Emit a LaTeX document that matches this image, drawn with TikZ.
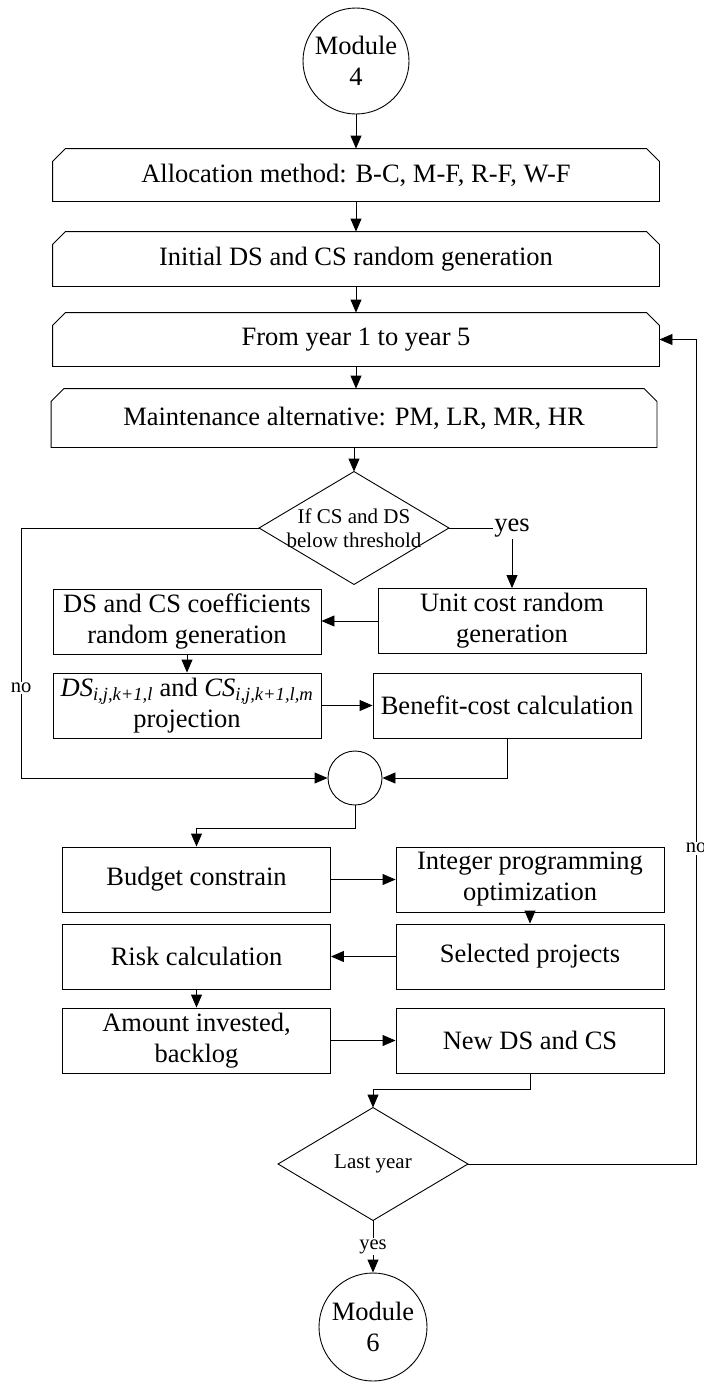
\documentclass[tikz,border=0pt]{standalone}
\usepackage{fontspec}
\setmainfont{Liberation Serif}
\usetikzlibrary{arrows.meta,calc}
\begin{document}
\begin{tikzpicture}[x=1pt,y=-1pt,
  line width=0.9pt,
  every node/.style={font=\fontsize{26.5}{31}\selectfont, align=center, inner sep=0pt},
  box/.style={draw, rectangle, minimum width=268pt, minimum height=65pt},
  chbox/.style={rectangle, minimum width=606pt},
  dec/.style={rectangle, minimum width=189pt, minimum height=112pt, font=\fontsize{21}{23.5}\selectfont},
  term/.style={draw, circle, minimum size=106pt},
  lbl/.style={fill=white, inner sep=1.5pt},
  smalllbl/.style={lbl, font=\fontsize{20.5}{22}\selectfont},
  arr/.style={-{Triangle[length=13pt,width=11pt]}},
]
\useasboundingbox (0,0) rectangle (704,1382);

% terminals
\node[term] (m4) at (356,61) {Module\\4};
\node[term, minimum size=108pt] (m6) at (373,1327) {Module\\6};

% chamfered boxes
\node[chbox, minimum height=52pt] (alloc) at (356,175) {Allocation method: B-C, M-F, R-F, W-F};
\node[chbox, minimum height=54pt] (init) at (356,259) {Initial DS and CS random generation};
\node[chbox, minimum height=53pt] (year) at (356,339.5) {From year 1 to year 5};
\node[chbox, minimum height=58pt, minimum width=605pt] (maint) at (354,418) {Maintenance alternative: PM, LR, MR, HR};
\foreach \n in {alloc,init,year,maint}{
  \draw ($(\n.north west)+(0,13)$) -- ($(\n.north west)+(13,0)$) -- ($(\n.north east)+(-13,0)$) -- ($(\n.north east)+(0,13)$) -- (\n.south east) -- (\n.south west) -- cycle;
}

% decisions
\node[dec] (dia1) at (354,528) {If CS and DS\\below threshold};
\node[dec] (dia2) at (373,1164) {Last year};
\foreach \n in {dia1,dia2}{
  \draw (\n.north) -- (\n.east) -- (\n.south) -- (\n.west) -- cycle;
}

% process boxes
\node[box] (ucost) at (512,621) {Unit cost random\\generation};
\node[box] (dscoef) at (187,621.5) {DS and CS coefficients\\random generation};
\node[box] (dsproj) at (187,705.5) {{\itshape DS\textsubscript{i,j,k+1,l}} and {\itshape CS\textsubscript{i,j,k+1,l,m}}\\projection};
\node[box] (benefit) at (507,705.5) {Benefit-cost calculation};
\node[draw, circle, minimum size=54pt] (conn) at (355,778) {};
\node[box] (budget) at (196.5,879.5) {Budget constrain};
\node[box] (integer) at (530,879.5) {Integer programming\\optimization};
\node[box] (selected) at (530,956.5) {Selected projects};
\node[box] (risk) at (196.5,956.5) {Risk calculation};
\node[box] (amount) at (196.5,1040.5) {Amount invested,\\backlog};
\node[box] (newds) at (530,1040.5) {New DS and CS};

% helper coordinates
\coordinate (leftx) at (21,0);
\coordinate (loopx) at (696,0);

% connectors
\draw[arr] (m4.south) -- (alloc.north);
\draw[arr] (alloc.south) -- (init.north);
\draw[arr] (init.south) -- (year.north);
\draw[arr] (year.south) -- (year.south |- maint.north);
\draw[arr] (maint.south) -- (dia1.north);
\draw[arr] (dia1.west) -- (dia1.west -| leftx) -- node[smalllbl, pos=0.64] (nol) {no} (conn.west -| leftx) -- (conn.west);
\draw[arr] (dia1.east) -- (dia1.east -| ucost.north) node[lbl] (yes1) {yes} -- (ucost.north);
\draw[arr] (ucost.west) -- (ucost.west -| dscoef.east);
\draw[arr] (dscoef.south) -- (dsproj.north);
\draw[arr] (dsproj.east) -- (benefit.west);
\draw[arr] (benefit.south) |- (conn.east);
\draw[arr] (conn.south) -- ++(0,23) -| (budget.north);
\draw[arr] (budget.east) -- (integer.west);
\draw[arr] (integer.south) -- (selected.north);
\draw[arr] (selected.west) -- (risk.east);
\draw[arr] (risk.south) -- (amount.north);
\draw[arr] (amount.east) -- (newds.west);
\draw[arr] (newds.south) -- ++(0,16) -| (dia2.north);
\draw[arr] (dia2.east) -- (dia2.east -| loopx) -- node[smalllbl, pos=0.383] (nor) {no} (year.east -| loopx) -- (year.east);
\draw[arr] (dia2.south) -- node[smalllbl, pos=0.5] (yes2) {yes} (m6.north);
\end{tikzpicture}
\end{document}
